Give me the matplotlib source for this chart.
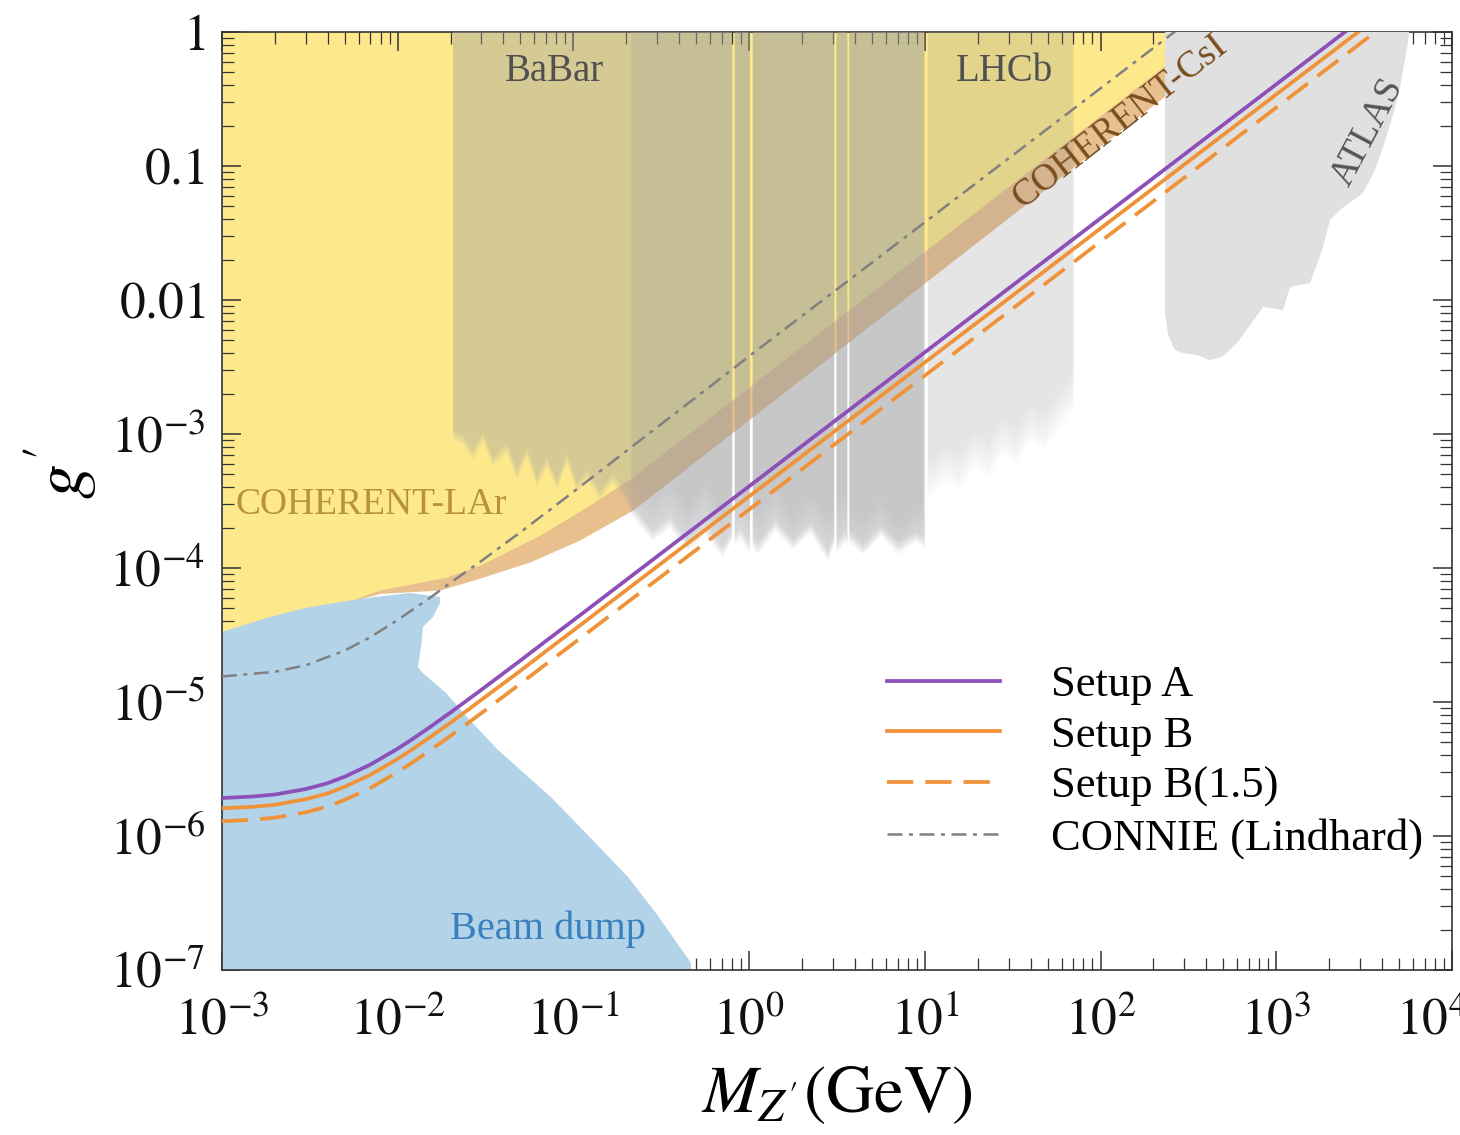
import numpy as np
import matplotlib
matplotlib.use("Agg")
import matplotlib.pyplot as plt
from matplotlib.ticker import FixedLocator, LogLocator, NullFormatter
from matplotlib.transforms import ScaledTranslation

plt.rcParams['font.family'] = 'serif'
plt.rcParams['font.serif'] = ['Liberation Serif', 'DejaVu Serif']
plt.rcParams['mathtext.fontset'] = 'stix'

# --- sensitivity curves ---
line_mass = [1e-3, 1.5e-3, 2e-3, 3e-3, 4e-3, 5e-3, 7e-3, 1e-2, 1.2e-2, 1.5e-2, 2e-2,
             2.5e-2, 3e-2, 5e-2, 7e-2, 0.1, 1, 10, 100, 1000, 1e4]
setup_a = [1.92e-6, 1.97e-6, 2.04e-6, 2.24e-6, 2.48e-6, 2.77e-6, 3.41e-6, 4.48e-6, 5.23e-6,
           6.39e-6, 8.35e-6, 1.035e-5, 1.235e-5, 2.04e-5, 2.86e-5, 4.07e-5, 4.07e-4,
           4.07e-3, 4.07e-2, 0.407, 4.07]
setup_b = [1.61e-6, 1.65e-6, 1.71e-6, 1.88e-6, 2.08e-6, 2.33e-6, 2.86e-6, 3.76e-6, 4.39e-6,
           5.37e-6, 7.01e-6, 8.69e-6, 1.04e-5, 1.71e-5, 2.40e-5, 3.42e-5, 3.42e-4,
           3.42e-3, 3.42e-2, 0.342, 3.42]
setup_b15 = [1.29e-6, 1.32e-6, 1.37e-6, 1.50e-6, 1.66e-6, 1.86e-6, 2.28e-6, 3.00e-6, 3.50e-6,
             4.28e-6, 5.59e-6, 6.93e-6, 8.27e-6, 1.37e-5, 1.92e-5, 2.73e-5, 2.73e-4,
             2.73e-3, 2.73e-2, 0.273, 2.73]

connie_mass = [1e-3, 2e-3, 3e-3, 5e-3, 7e-3, 1e-2, 1.5e-2, 2e-2, 3e-2, 5e-2, 0.1, 1, 10, 100, 1000]
connie = [1.55e-5, 1.68e-5, 1.88e-5, 2.42e-5, 3.05e-5, 4.09e-5, 5.89e-5, 7.75e-5, 1.13e-4,
          1.85e-4, 3.7e-4, 3.8e-3, 0.038, 0.38, 3.8]

# --- excluded regions: lower edges ---
lar_mass = [1e-3, 3.16e-3, 7.93e-3, 1.91e-2, 2.94e-2, 6.46e-2, 0.124, 0.218, 409, 1000]
lar_low = [3.16e-5, 4.47e-5, 6.85e-5, 8.57e-5, 1.05e-4, 1.76e-4, 2.95e-4, 4.78e-4, 1.0, 2.5]

csi_mass = [1e-3, 7.94e-3, 1.742e-2, 2.94e-2, 5.66e-2, 0.109, 0.218, 682, 1585]
csi_low = [3.16e-5, 6.46e-5, 6.85e-5, 8.41e-5, 1.11e-4, 1.62e-4, 2.71e-4, 1.0, 2.3]

beam_mass = [1e-3, 1e-3, 1.875e-3, 2.965e-3, 4.70e-3, 7.43e-3, 1.175e-2, 1.742e-2, 1.742e-2,
             1.589e-2, 1.393e-2, 1.358e-2, 1.306e-2, 1.393e-2, 1.884e-2, 2.477e-2, 3.724e-2,
             7.447e-2, 0.118, 0.2046, 0.2951, 0.4667, 0.5047]
beam_g = [1e-8, 3.33e-5, 4.31e-5, 5.02e-5, 5.57e-5, 6.08e-5, 6.50e-5, 6.08e-5, 5.48e-5,
          4.31e-5, 3.63e-5, 2.57e-5, 1.82e-5, 1.64e-5, 1.17e-5, 7.73e-6, 4.39e-6,
          1.95e-6, 1.05e-6, 4.94e-7, 2.66e-7, 1.13e-7, 1e-8]

babar_mass = [0.02065, 0.02355, 0.02685, 0.03062, 0.03491, 0.04188, 0.04775, 0.05445, 0.06209,
              0.07079, 0.08072, 0.09204, 0.1050, 0.1194, 0.1416, 0.1679, 0.2018, 0.2183,
              0.2818, 0.3548, 0.4467, 0.5623, 0.7079, 0.80, 0.815, 0.83, 0.8913, 1.01, 1.03,
              1.05, 1.122, 1.413, 1.778, 2.239, 2.818, 3.05, 3.1, 3.15, 3.548, 3.62, 3.67,
              3.72, 4.467, 5.623, 7.079, 8.913, 10.0]
babar_low = [9.02e-4, 8.28e-4, 6.40e-4, 8.71e-4, 5.68e-4, 7.21e-4, 4.54e-4, 6.73e-4, 4.02e-4,
             5.68e-4, 3.82e-4, 6.08e-4, 3.63e-4, 4.54e-4, 3.21e-4, 4.31e-4, 3.05e-4, 2.40e-4,
             1.58e-4, 2.0e-4, 1.32e-4, 1.78e-4, 1.20e-4, 1.6e-4, np.nan, 1.5e-4, 1.66e-4,
             1.3e-4, np.nan, 1.4e-4, 1.26e-4, 1.91e-4, 1.38e-4, 1.82e-4, 1.12e-4, 1.5e-4,
             np.nan, 1.3e-4, 1.58e-4, 1.4e-4, np.nan, 1.6e-4, 1.26e-4, 1.74e-4, 1.32e-4,
             1.58e-4, 1.41e-4]

lhcb_mass = [0.214, 0.2818, 0.3548, 0.4467, 0.5623, 0.7079, 0.80, 0.815, 0.83, 0.8913, 1.01,
             1.03, 1.05, 1.122, 1.413, 1.778, 2.239, 2.818, 3.05, 3.1, 3.15, 3.548, 3.62,
             3.67, 3.72, 4.467, 5.623, 7.079, 8.913, 9.8, 10.1, 10.4, 11.2, 13.2, 15.8, 19.1,
             22.9, 27.5, 33.1, 39.8, 47.9, 57.5, 63.1, 70.0]
lhcb_low = [2.8e-4, 1.91e-4, 2.51e-4, 1.66e-4, 2.40e-4, 1.58e-4, 2.0e-4, np.nan, 1.9e-4,
            2.24e-4, 1.7e-4, np.nan, 1.8e-4, 1.51e-4, 2.19e-4, 1.41e-4, 2.0e-4, 1.38e-4,
            1.6e-4, np.nan, 1.7e-4, 1.91e-4, 1.6e-4, np.nan, 1.5e-4, 1.32e-4, 1.82e-4,
            1.20e-4, 1.58e-4, 1.7e-4, np.nan, 3.4e-4, 3.55e-4, 4.47e-4, 3.80e-4, 5.62e-4,
            4.79e-4, 7.08e-4, 6.03e-4, 8.91e-4, 7.59e-4, 1.12e-3, 1.26e-3, 1.58e-3]

atlas_mass = [233, 233, 242, 265, 295, 354, 420, 492, 598, 710, 841, 1094, 1200, 1556, 1824,
              2023, 2307, 3119, 3648, 4055, 4624, 5070, 5559, 5702, 5702]
atlas_low = [2.0, 8.0e-3, 5.5e-3, 4.24e-3, 4.02e-3, 3.89e-3, 3.56e-3, 3.76e-3, 4.78e-3, 6.5e-3,
             8.87e-3, 8.41e-3, 0.0125, 0.0134, 0.0236, 0.0395, 0.047, 0.063, 0.0933, 0.139,
             0.240, 0.389, 0.773, 1.0, 2.0]

x_ticks = [1e-3, 1e-2, 1e-1, 1, 10, 100, 1e3, 1e4]
x_labels = [r'$10^{-3}$', r'$10^{-2}$', r'$10^{-1}$', r'$10^{0}$', r'$10^{1}$',
            r'$10^{2}$', r'$10^{3}$', r'$10^{4}$']
y_ticks = [1e-7, 1e-6, 1e-5, 1e-4, 1e-3, 1e-2, 1e-1, 1]
y_labels = [r'$10^{-7}$', r'$10^{-6}$', r'$10^{-5}$', r'$10^{-4}$', r'$10^{-3}$',
            r'$0.01$', r'$0.1$', r'$1$']


def faded_fill(ax, mass, low, color, alpha, steps=6, spread=1.7):
    # stack a few copies with raised edges so the lower edge fades out
    low = np.asarray(low, dtype=float)
    a = 1 - (1 - alpha) ** (1.0 / steps)
    for k in range(steps):
        ax.fill_between(mass, low * spread ** (k / (steps - 1)), 5, color=color,
                        alpha=a, lw=0, zorder=3)


fig = plt.figure(figsize=(14.6, 11.35), dpi=100)
ax = fig.add_axes([0.152, 0.1454, 0.8425, 0.8264])
ax.set_xscale('log')
ax.set_yscale('log')

# excluded regions
ax.fill_between(csi_mass, csi_low, 5, color='#e8c08e', lw=0, zorder=1)
ax.fill_between(lar_mass, lar_low, 5, color='#fde98c', lw=0, zorder=1.5)
ax.fill(beam_mass, beam_g, color='#b2d3e8', lw=0, zorder=2)
faded_fill(ax, babar_mass, babar_low, '#a2a2a8', 0.40, spread=1.2)
faded_fill(ax, lhcb_mass, lhcb_low, '#a0a0a0', 0.26, spread=1.8)
ax.fill(atlas_mass, atlas_low, color='#e0e0e0', lw=0, zorder=3)

# curves
ax.plot(connie_mass, connie, color='#808080', lw=1.8, dashes=(6.0, 2.6, 1.6, 2.6),
        zorder=4, label='CONNIE (Lindhard)')
ax.plot(line_mass, setup_a, color='#8d4fb8', lw=2.7, zorder=5, label='Setup A')
ax.plot(line_mass, setup_b, color='#ef9238', lw=2.7, zorder=5, label='Setup B')
ax.plot(line_mass, setup_b15, color='#ef9238', lw=2.7, dashes=(7.0, 3.2), zorder=5,
        label='Setup B(1.5)')

# region labels
ax.text(0.0785, 0.503, 'BaBar', color='#505050', fontsize=28, ha='center', va='center', zorder=6)
ax.text(28.6, 0.503, 'LHCb', color='#505050', fontsize=28, ha='center', va='center', zorder=6)
ax.text(1.19e-3, 2.95e-4, 'COHERENT-LAr', color='#b8913f', fontsize=27, ha='left',
        va='center', zorder=6)
ax.text(129, 0.215, 'COHERENT-CsI', color='#7a4d1e', fontsize=27, ha='center', va='center',
        rotation=37.8, rotation_mode='anchor', zorder=6)
ax.text(3334, 0.179, 'ATLAS', color='#555555', fontsize=27, ha='center', va='center',
        rotation=62, rotation_mode='anchor', zorder=6)
ax.text(0.0716, 2.0e-7, 'Beam dump', color='#3a7fc0', fontsize=29, ha='center',
        va='center', zorder=6)

ax.set_xlim(1e-3, 1e4)
ax.set_ylim(1e-7, 1)
ax.xaxis.set_major_locator(FixedLocator(x_ticks))
ax.set_xticklabels(x_labels)
ax.yaxis.set_major_locator(FixedLocator(y_ticks))
ax.set_yticklabels(y_labels)
ax.xaxis.set_minor_locator(LogLocator(base=10, subs=np.arange(2, 10), numticks=20))
ax.yaxis.set_minor_locator(LogLocator(base=10, subs=np.arange(2, 10), numticks=20))
ax.xaxis.set_minor_formatter(NullFormatter())
ax.yaxis.set_minor_formatter(NullFormatter())
ax.tick_params(which='both', direction='in', top=True, right=True, colors='#333333',
               labelcolor='#111111')
ax.tick_params(which='major', length=14, width=1.1, labelsize=37)
ax.tick_params(which='minor', length=8.5, width=0.9)
ax.tick_params(axis='y', which='major', pad=12)
ax.tick_params(axis='x', which='major', pad=20)
for sp in ax.spines.values():
    sp.set_color('#333333')
    sp.set_linewidth(1.2)

# last x label sits a little left of its tick, as in the original
last = ax.get_xticklabels()[-1]
last.set_transform(last.get_transform() + ScaledTranslation(-0.2, 0, fig.dpi_scale_trans))

ax.set_xlabel(r'$M_{Z^{\prime}}(\mathrm{GeV})$', fontsize=48)
ax.set_ylabel(r'$g^{\prime}$', fontsize=50)
ax.xaxis.set_label_coords(0.5, -0.1)
ax.yaxis.set_label_coords(-0.1, 0.53)

handles, labels = ax.get_legend_handles_labels()
order = [1, 2, 3, 0]
ax.legend([handles[i] for i in order], [labels[i] for i in order], loc='upper left',
          bbox_to_anchor=(0.5407, 0.325), frameon=False, fontsize=32, handlelength=2.55,
          handletextpad=1.13, labelspacing=0.24, borderpad=0, borderaxespad=0)

fig.savefig('out.png', dpi=100)
